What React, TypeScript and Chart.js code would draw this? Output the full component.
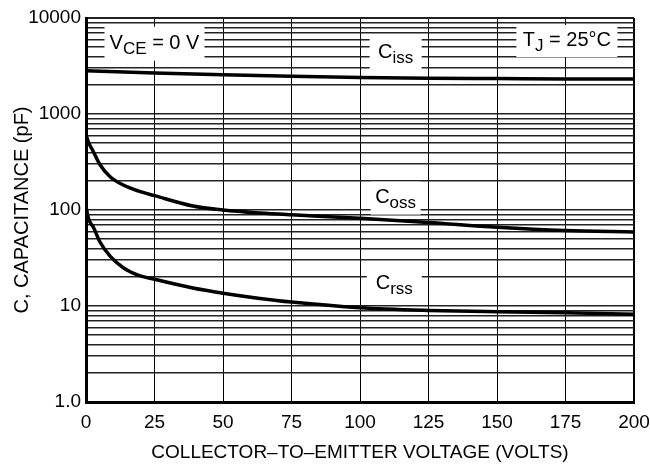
import React, { useEffect, useRef } from "react";
import { Chart, registerables } from "chart.js";

Chart.register(...registerables);

// Collector-emitter voltage (V) sample points
const VOLTAGE = [0, 1, 2.7, 5, 8.8, 13.6, 19, 25, 39, 50, 63.5, 75, 100, 125, 150, 175, 200];
// Output capacitance Coss (pF)
const COSS = [610, 500, 405, 300, 222, 182, 158, 141, 110, 100, 93, 89, 82, 74, 66, 61, 59];
// Reverse transfer capacitance Crss (pF)
const CRSS = [108, 80, 66, 47, 33, 25, 21, 19, 15.4, 13.6, 12, 11, 9.6, 9.0, 8.7, 8.5, 8.2];
// Input capacitance Ciss (pF)
const CISS_VOLTAGE = [0, 25, 50, 75, 100, 125, 150, 175, 200];
const CISS = [2820, 2680, 2560, 2470, 2400, 2360, 2340, 2320, 2310];

const X_TICKS = [0, 25, 50, 75, 100, 125, 150, 175, 200];
const Y_DECADES = [1, 10, 100, 1000];
const Y_MULTIPLIERS = [1, 2, 3, 4, 5, 6, 7, 8, 9];
const Y_MAX = 10000;
const Y_LABELS: Record<number, string> = { 1: "1.0", 10: "10", 100: "100", 1000: "1000", 10000: "10000" };

const FONT = "'Liberation Sans', Arial, sans-serif";

type Part = { t: string; sub?: boolean };
const ANNOTATIONS: { x: number; y: number; w: number; h: number; parts: Part[] }[] = [
  { x: 25, y: 5400, w: 100, h: 34, parts: [{ t: "V" }, { t: "CE", sub: true }, { t: " = 0 V" }] },
  { x: 175.5, y: 5750, w: 101, h: 32, parts: [{ t: "T" }, { t: "J", sub: true }, { t: " = 25°C" }] },
  { x: 113, y: 4300, w: 52, h: 34, parts: [{ t: "C" }, { t: "iss", sub: true }] },
  { x: 113, y: 133, w: 50, h: 33, parts: [{ t: "C" }, { t: "oss", sub: true }] },
  { x: 112.5, y: 17, w: 55, h: 35, parts: [{ t: "C" }, { t: "rss", sub: true }] },
];

const labelPlugin = {
  id: "richLabels",
  beforeDatasetsDraw(chart: any) {
    const { ctx, scales } = chart;
    const size = 20;
    const subSize = 17;
    ctx.save();
    for (const a of ANNOTATIONS) {
      const cx = scales.x.getPixelForValue(a.x);
      const cy = scales.y.getPixelForValue(a.y);
      ctx.fillStyle = "#fff";
      ctx.fillRect(cx - a.w / 2, cy - a.h / 2, a.w, a.h);
      let total = 0;
      for (const p of a.parts) {
        ctx.font = `${p.sub ? subSize : size}px ${FONT}`;
        total += ctx.measureText(p.t).width;
      }
      let x = cx - total / 2;
      const base = cy + 5;
      ctx.fillStyle = "#000";
      ctx.textBaseline = "alphabetic";
      ctx.textAlign = "left";
      for (const p of a.parts) {
        ctx.font = `${p.sub ? subSize : size}px ${FONT}`;
        ctx.fillText(p.t, x, p.sub ? base + 5 : base);
        x += ctx.measureText(p.t).width;
      }
    }
    ctx.restore();
  },
};

export default function App() {
  const ref = useRef<HTMLCanvasElement>(null);
  useEffect(() => {
    if (!ref.current) return;
    const yTicks: number[] = [];
    for (const d of Y_DECADES) for (const m of Y_MULTIPLIERS) yTicks.push(d * m);
    yTicks.push(Y_MAX);
    const line = (xs: number[], ys: number[]) => ({
      data: xs.map((v, i) => ({ x: v, y: ys[i] })),
      borderColor: "#000",
      borderWidth: 3.5,
      pointRadius: 0,
      cubicInterpolationMode: "monotone" as const,
      fill: false,
    });
    const chart = new Chart(ref.current, {
      type: "line",
      data: {
        datasets: [line(CISS_VOLTAGE, CISS), line(VOLTAGE, COSS), line(VOLTAGE, CRSS)],
      },
      options: {
        animation: false,
        responsive: false,
        layout: { padding: { top: 18, right: 16, left: 0, bottom: 0 } },
        plugins: { legend: { display: false }, tooltip: { enabled: false } },
        scales: {
          x: {
            type: "linear",
            min: 0,
            max: 200,
            afterBuildTicks: (s: any) => {
              s.ticks = X_TICKS.map((v) => ({ value: v }));
            },
            afterFit: (s: any) => {
              s.height = 62;
              s.paddingRight = 0;
              s.paddingLeft = 0;
            },
            ticks: {
              color: "#000",
              font: { family: FONT, size: 19 },
              padding: 9,
              maxRotation: 0,
              autoSkip: false,
            },
            grid: {
              color: "#000",
              lineWidth: (c: any) => (c.tick && c.tick.value === 200 ? 2 : 1),
              drawTicks: false,
            },
            border: { color: "#000", width: 3 },
            title: {
              display: true,
              text: "COLLECTOR–TO–EMITTER VOLTAGE (VOLTS)",
              color: "#000",
              font: { family: FONT, size: 19 },
              padding: { top: 4, bottom: 0 },
            },
          },
          y: {
            type: "logarithmic",
            min: 1,
            max: Y_MAX,
            afterBuildTicks: (s: any) => {
              s.ticks = yTicks.map((v) => ({ value: v }));
            },
            afterFit: (s: any) => {
              s.width = 86;
              s.paddingTop = 0;
              s.paddingBottom = 0;
            },
            ticks: {
              color: "#000",
              font: { family: FONT, size: 19 },
              padding: 5,
              autoSkip: false,
              callback: (v: any) => Y_LABELS[Number(v)] ?? "",
            },
            grid: {
              color: "#222",
              lineWidth: (c: any) => (c.tick && c.tick.value === Y_MAX ? 2 : 1.4),
              drawTicks: false,
            },
            border: { color: "#000", width: 3 },
            title: {
              display: true,
              text: "C, CAPACITANCE (pF)",
              color: "#000",
              font: { family: FONT, size: 20 },
              padding: { top: 10, bottom: 4 },
            },
          },
        },
      },
      plugins: [labelPlugin],
    });
    return () => chart.destroy();
  }, []);
  return (
    <div style={{ position: "fixed", left: 0, top: 0, width: 650, height: 464, background: "#fff" }}>
      <canvas ref={ref} width={650} height={464} style={{ display: "block" }} />
    </div>
  );
}
